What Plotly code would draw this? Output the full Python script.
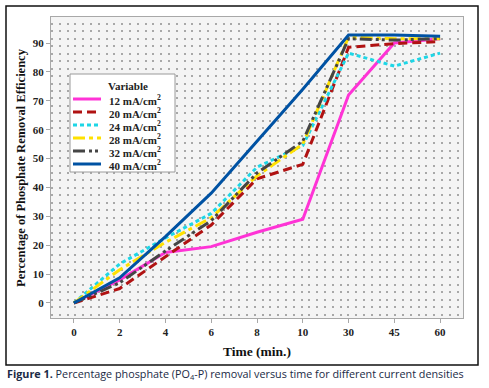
import plotly.graph_objects as go

time_labels = ["0", "2", "4", "6", "8", "10", "30", "45", "60"]
series_names = ["12 mA/cm<sup>2</sup>", "20 mA/cm<sup>2</sup>", "24 mA/cm<sup>2</sup>",
                "28 mA/cm<sup>2</sup>", "32 mA/cm<sup>2</sup>", "40 mA/cm<sup>2</sup>"]
s12 = [0, 8, 17.5, 19.5, 24.5, 29, 72, 90, 91.5]
s20 = [0, 5, 16, 27, 43, 48, 88.5, 89.8, 90.5]
s24 = [0, 13.5, 22.5, 31, 47, 54.5, 86.5, 82, 86.5]
s28 = [0, 11.5, 21, 29.5, 44, 55, 92, 91.5, 91.5]
s32 = [0, 7, 18, 28.5, 45, 56, 91.5, 91, 91.5]
s40 = [0, 8.7, 23, 38, 56, 74, 92.8, 92.8, 92.3]
y_ticks = [0, 10, 20, 30, 40, 50, 60, 70, 80, 90]

series = [s12, s20, s24, s28, s32, s40]
colors = ["#FF33D6", "#B01212", "#1ED6E6", "#FFE100", "#454545", "#0052A3"]
dashes = ["solid", "9px,5px", "4px,3px", "12px,4px,4px,4px", "12px,4px,3px,3px,3px,4px", "solid"]

W, H = 489, 388
L, R, T, B = 51, 26, 17, 70
PW, PH = W - L - R, H - T - B


def px(x):
    return (x - L) / PW


def py(y):
    return (H - B - y) / PH


serif = "Liberation Serif"
fig = go.Figure()
# hidden overlay axis that carries the dotted background lattice
fig.add_trace(go.Scatter(x=[], y=[], xaxis="x", yaxis="y2", showlegend=False, hoverinfo="skip"))
for name, vals, c, d in zip(series_names, series, colors, dashes):
    fig.add_trace(go.Scatter(x=time_labels, y=vals, mode="lines", name=name, showlegend=False,
                             line=dict(color=c, width=3, dash=d)))

shapes = [dict(type="rect", xref="paper", yref="paper",
               x0=px(6), x1=px(478), y0=py(365), y1=py(6),
               line=dict(color="#111", width=1.5), fillcolor="rgba(0,0,0,0)", layer="above")]
annotations = []

# legend box, drawn from the series lists
shapes.append(dict(type="rect", xref="paper", yref="paper",
                   x0=px(70), x1=px(175), y0=py(172), y1=py(74),
                   line=dict(color="#9a9a9a", width=1), fillcolor="white", layer="above"))
annotations.append(dict(text="<b>Variable</b>", xref="paper", yref="paper", x=px(128), y=py(86),
                        showarrow=False, xanchor="center", yanchor="middle",
                        font=dict(family=serif, size=11, color="#222")))
for i, (name, c, d) in enumerate(zip(series_names, colors, dashes)):
    yy = 99 + i * 13
    shapes.append(dict(type="line", xref="paper", yref="paper", x0=px(73), x1=px(101),
                       y0=py(yy), y1=py(yy), line=dict(color=c, width=3, dash=d), layer="above"))
    annotations.append(dict(text="<b>" + name + "</b>", xref="paper", yref="paper", x=px(107), y=py(yy + 1),
                            showarrow=False, xanchor="left", yanchor="middle",
                            font=dict(family=serif, size=11, color="#222")))

annotations.append(dict(text="<b>Percentage of Phosphate Removal Efficiency</b>", xref="paper", yref="paper",
                        x=px(21), y=py(168), textangle=-90, showarrow=False,
                        xanchor="center", yanchor="middle",
                        font=dict(family=serif, size=12.5, color="#111")))
annotations.append(dict(text="<b>Time (min.)</b>", xref="paper", yref="paper",
                        x=px(257), y=py(351), showarrow=False, xanchor="center", yanchor="middle",
                        font=dict(family=serif, size=13.5, color="#111")))
annotations.append(dict(text="<b>Figure 1.</b> Percentage phosphate (PO<sub>4</sub>-P) removal versus time for different current densities",
                        xref="paper", yref="paper", x=px(5), y=py(374), xanchor="left", yanchor="middle",
                        showarrow=False, font=dict(family="Open Sans", size=10.8, color="#1a2a45")))

fig.update_layout(
    width=W, height=H,
    margin=dict(l=L, r=R, t=T, b=B),
    paper_bgcolor="white", plot_bgcolor="#f4f4f4",
    showlegend=False,
    xaxis=dict(type="category", range=[-0.5, 8.5], showgrid=False, zeroline=False, automargin=False,
               showline=True, linecolor="#a8a8a8", mirror=True, ticks="outside",
               ticklen=4, tickcolor="#a8a8a8",
               tickfont=dict(family=serif, size=11, color="#222", weight="bold")),
    yaxis=dict(range=[-5.2, 99], tickvals=y_ticks, showgrid=False, zeroline=False, automargin=False,
               showline=True, linecolor="#a8a8a8", mirror=True, ticks="outside",
               ticklen=4, tickcolor="#a8a8a8",
               tickfont=dict(family=serif, size=11, color="#222", weight="bold")),
    yaxis2=dict(overlaying="y", range=[0, PH], tick0=3.5, dtick=7.45, automargin=False,
                showgrid=True, gridcolor="#a8a8a8", gridwidth=1.8, griddash="2px,5.8px",
                showticklabels=False, ticks="", zeroline=False, showline=False, side="right"),
    shapes=shapes,
    annotations=annotations,
)

fig.write_html("out.html", config={"displayModeBar": False},
               post_script="document.body.style.margin='0';document.body.style.overflow='hidden';")
